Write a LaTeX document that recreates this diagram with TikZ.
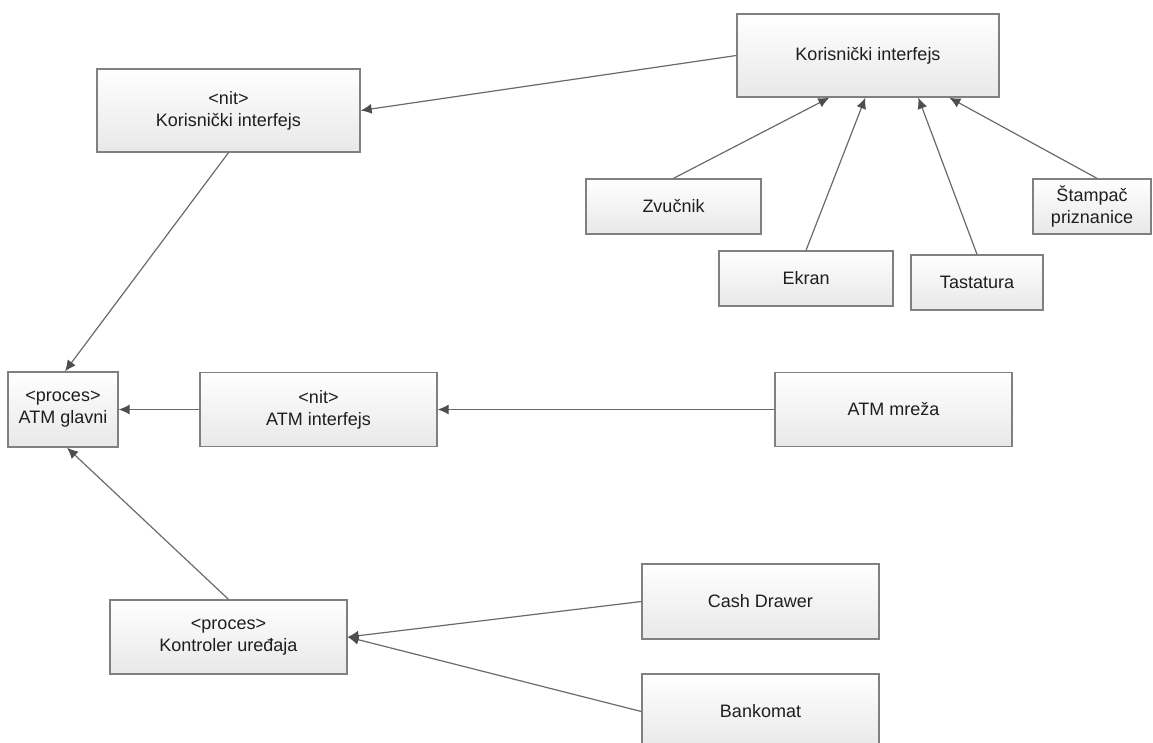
\documentclass[tikz,border=0pt]{standalone}
\usepackage{fontspec}
\setmainfont{Liberation Sans}
\usetikzlibrary{arrows.meta}
\definecolor{edgegray}{HTML}{6A6A6A}
\definecolor{tipgray}{HTML}{4E4E4E}
\definecolor{framegray}{HTML}{808080}
\definecolor{boxlow}{HTML}{E8E8E8}
\definecolor{inkgray}{HTML}{1E1E1E}
\begin{document}
\begin{tikzpicture}[x=1pt,y=-1pt,
  box/.style={draw=framegray, line width=1.3pt, top color=white, bottom color=boxlow,
    inner sep=0pt, align=center, text=inkgray,
    font=\fontsize{18}{22}\selectfont},
  conn/.style={draw=edgegray, line width=1.2pt,
    -{Latex[length=11pt,width=10pt,fill=tipgray,color=tipgray]}}]
\useasboundingbox (0,0) rectangle (1153,742);
\clip (0,0) rectangle (1153,742);

% components
\node[box, minimum width=262pt, minimum height=83pt] (topki) at (868,55.5) {Korisnički interfejs};
\node[box, minimum width=263pt, minimum height=83pt] (nitki) at (228.5,110.5) {<nit>\\Korisnički interfejs};
\node[box, minimum width=175pt, minimum height=55pt] (zv) at (673.5,206.5) {Zvučnik};
\node[box, minimum width=118pt, minimum height=55pt] (stampac) at (1092,206.5) {Štampač\\priznanice};
\node[box, minimum width=174pt, minimum height=55pt] (ekran) at (806,278.5) {Ekran};
\node[box, minimum width=132pt, minimum height=55pt] (tast) at (977,282.5) {Tastatura};
\node[box, minimum width=110pt, minimum height=75pt] (glavni) at (63,409.5) {<proces>\\ATM glavni};
\node[box, minimum width=237pt, minimum height=74pt] (interfejs) at (318.5,409.5) {<nit>\\ATM interfejs};
\node[box, minimum width=237pt, minimum height=74pt] (mreza) at (893.5,409.5) {ATM mreža};
\node[box, minimum width=237pt, minimum height=74pt] (kontroler) at (228.5,637) {<proces>\\Kontroler uređaja};
\node[box, minimum width=237pt, minimum height=75pt] (cash) at (760.5,601.5) {Cash Drawer};
\node[box, minimum width=237pt, minimum height=75pt] (bankomat) at (760.5,711.5) {Bankomat};

% connectors
\draw[conn] (topki.west) -- (nitki.east);
\draw[conn] (nitki.south) -- ([xshift=2pt]glavni.north);
\draw[conn] (interfejs.west) -- (glavni.east);
\draw[conn] (mreza.west) -- (interfejs.east);
\draw[conn] (kontroler.north) -- ([xshift=4pt]glavni.south);
\draw[conn] (cash.west) -- (kontroler.east);
\draw[conn] (bankomat.west) -- (kontroler.east);
\draw[conn] (zv.north) -- ([xshift=93pt]topki.south west);
\draw[conn] (ekran.north) -- ([xshift=129pt]topki.south west);
\draw[conn] (tast.north) -- ([xshift=182pt]topki.south west);
\draw[conn] ([xshift=5pt]stampac.north) -- ([xshift=213pt]topki.south west);
\end{tikzpicture}
\end{document}
